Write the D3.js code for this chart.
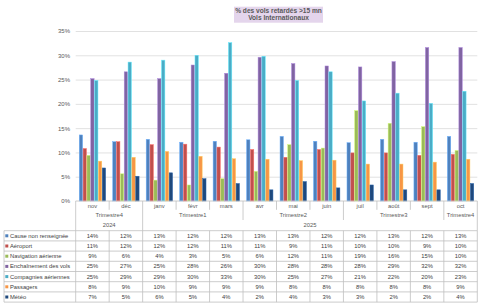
<!DOCTYPE html>
<html>
<head>
<meta charset="utf-8">
<script src="https://cdn.jsdelivr.net/npm/d3@7"></script>
<style>
  body { margin: 0; background: #fff; }
  text { font-family: "Liberation Sans", Arial, sans-serif; }
</style>
</head>
<body>
<div id="chart"></div>
<script>
// data
const months = ["nov", "déc", "janv", "févr", "mars", "avr", "mai", "juin", "juil", "août", "sept", "oct"];
const monthQuarter = ["Trimestre4", "Trimestre4", "Trimestre1", "Trimestre1", "Trimestre1", "Trimestre2", "Trimestre2", "Trimestre2", "Trimestre3", "Trimestre3", "Trimestre3", "Trimestre4"];
const monthYear = ["2024", "2024", "2025", "2025", "2025", "2025", "2025", "2025", "2025", "2025", "2025", "2025"];

const seriesNames = ["Cause non renseignée", "Aéroport", "Navigation aérienne", "Enchaînement des vols", "Compagnies aériennes", "Passagers", "Météo"];
const seriesColors = ["#4f81bd", "#c0504d", "#9bbb59", "#8064a2", "#4bacc6", "#f79646", "#1f497d"];

const causeNonRenseignee = [13.6, 12.2, 12.7, 12.1, 12.3, 12.6, 13.3, 12.3, 12.0, 12.7, 12.1, 13.3];
const aeroport = [10.8, 12.2, 11.6, 11.7, 11.1, 10.6, 9.0, 10.6, 9.9, 9.9, 9.4, 9.6];
const navigationAerienne = [9.4, 5.6, 4.3, 3.3, 4.6, 6.1, 11.6, 10.9, 18.6, 16.0, 15.3, 10.4];
const enchainementVols = [25.2, 26.6, 25.2, 28.0, 26.3, 29.6, 28.3, 27.8, 27.6, 28.7, 31.6, 31.6];
const compagniesAeriennes = [24.8, 28.6, 29.0, 30.0, 32.6, 29.8, 24.8, 26.6, 20.6, 22.2, 20.1, 22.6];
const passagers = [8.2, 9.0, 10.2, 9.2, 8.7, 8.6, 8.3, 8.4, 7.6, 7.6, 8.0, 8.6];
const meteo = [6.8, 5.1, 5.8, 4.6, 3.6, 2.3, 4.0, 2.7, 3.3, 2.3, 2.3, 3.6];

const seriesValues = [causeNonRenseignee, aeroport, navigationAerienne, enchainementVols, compagniesAeriennes, passagers, meteo];
const yTicks = [0, 5, 10, 15, 20, 25, 30, 35];

// metrics
const width = 483;
const height = 305;
const plotLeft = 75.7;
const plotRight = 477.3;
const plotTop = 31;
const plotBottom = 201;
const tableLeft = 4;
const tableTop = 230.7;
const rowHeight = 10.2;
const gridColor = "#d9d9d9";
const lineColor = "#bfbfbf";
const textColor = "#595959";

const svg = d3.select("#chart")
  .append("svg")
  .attr("width", width)
  .attr("height", height);

// title
svg.append("rect")
  .attr("x", 234).attr("y", 6.7)
  .attr("width", 89).attr("height", 16)
  .attr("fill", "#e4d5ec");

svg.append("text")
  .attr("x", 278.5).attr("y", 13.3)
  .attr("text-anchor", "middle")
  .attr("font-size", 6.6).attr("font-weight", "bold")
  .attr("fill", textColor)
  .text("% des vols retardés >15 mn");

svg.append("text")
  .attr("x", 278.5).attr("y", 20)
  .attr("text-anchor", "middle")
  .attr("font-size", 6.6).attr("font-weight", "bold")
  .attr("fill", textColor)
  .text("Vols Internationaux");

// scales
const x0 = d3.scaleBand()
  .domain(months)
  .range([plotLeft, plotRight])
  .paddingInner(0.185)
  .paddingOuter(0.0925);

const x1 = d3.scaleBand()
  .domain(seriesNames)
  .range([0, x0.bandwidth()])
  .padding(0.12);

const y = d3.scaleLinear()
  .domain([0, 35])
  .range([plotBottom, plotTop]);

// gridlines
const grid = svg.append("g")
  .attr("transform", `translate(${plotLeft},0)`)
  .call(d3.axisLeft(y).tickValues(yTicks.slice(1)).tickSize(-(plotRight - plotLeft)).tickFormat(""));
grid.select(".domain").remove();
grid.selectAll("line").attr("stroke", gridColor).attr("stroke-width", 0.8);

// y axis labels
const yAxis = svg.append("g")
  .attr("transform", `translate(70,0)`)
  .call(d3.axisLeft(y).tickValues(yTicks).tickSize(0).tickPadding(0).tickFormat((d) => d + "%"));
yAxis.select(".domain").remove();
yAxis.selectAll("text")
  .attr("font-size", 6)
  .attr("font-family", "Liberation Sans, Arial, sans-serif")
  .attr("fill", textColor);

// bars
const groups = svg.append("g")
  .selectAll("g")
  .data(months)
  .join("g")
  .attr("transform", (d) => `translate(${x0(d)},0)`);

groups.selectAll("rect")
  .data((m, i) => seriesNames.map((s, k) => ({ series: s, value: seriesValues[k][i], color: seriesColors[k] })))
  .join("rect")
  .attr("x", (d) => x1(d.series))
  .attr("width", x1.bandwidth())
  .attr("y", (d) => y(d.value))
  .attr("height", (d) => y(0) - y(d.value))
  .attr("fill", (d) => d.color)
  .attr("stroke", (d) => d3.color(d.color).brighter(0.9))
  .attr("stroke-width", 0.5);

// category axis
const axisG = svg.append("g");
axisG.append("line")
  .attr("x1", plotLeft).attr("x2", plotRight)
  .attr("y1", plotBottom).attr("y2", plotBottom)
  .attr("stroke", lineColor).attr("stroke-width", 0.8);

const step = x0.step();
const colLeft = (i) => plotLeft + i * step;

// boundaries: short for month, longer for quarter, full for year / edges
const boundaries = d3.range(months.length + 1).map((i) => {
  let bottom = 209.8;
  if (i === 0 || i === months.length || monthYear[i] !== monthYear[i - 1]) bottom = tableTop;
  else if (monthQuarter[i] !== monthQuarter[i - 1]) bottom = 220;
  return { x: colLeft(i), bottom };
});

axisG.selectAll("line.tick")
  .data(boundaries)
  .join("line")
  .attr("class", "tick")
  .attr("x1", (d) => d.x).attr("x2", (d) => d.x)
  .attr("y1", plotBottom).attr("y2", (d) => d.bottom)
  .attr("stroke", lineColor).attr("stroke-width", 0.8);

axisG.selectAll("text.month")
  .data(months)
  .join("text")
  .attr("class", "month")
  .attr("x", (d) => x0(d) + x0.bandwidth() / 2)
  .attr("y", 207.5)
  .attr("text-anchor", "middle")
  .attr("font-size", 5.8)
  .attr("fill", textColor)
  .text((d) => d);

function runs(labels) {
  const out = [];
  labels.forEach((l, i) => {
    if (i > 0 && labels[i - 1] === l) out[out.length - 1].end = i;
    else out.push({ label: l, start: i, end: i });
  });
  return out;
}

axisG.selectAll("text.quarter")
  .data(runs(monthQuarter))
  .join("text")
  .attr("class", "quarter")
  .attr("x", (d) => (colLeft(d.start) + colLeft(d.end + 1)) / 2)
  .attr("y", 217)
  .attr("text-anchor", "middle")
  .attr("font-size", 5.8)
  .attr("fill", textColor)
  .text((d) => d.label);

axisG.selectAll("text.year")
  .data(runs(monthYear))
  .join("text")
  .attr("class", "year")
  .attr("x", (d) => (colLeft(d.start) + colLeft(d.end + 1)) / 2)
  .attr("y", 226.5)
  .attr("text-anchor", "middle")
  .attr("font-size", 5.8)
  .attr("fill", textColor)
  .text((d) => d.label);

// data table
const table = svg.append("g");
const tableBottom = tableTop + rowHeight * seriesNames.length;

table.selectAll("line.h")
  .data(d3.range(seriesNames.length + 1))
  .join("line")
  .attr("class", "h")
  .attr("x1", tableLeft).attr("x2", plotRight)
  .attr("y1", (i) => tableTop + i * rowHeight)
  .attr("y2", (i) => tableTop + i * rowHeight)
  .attr("stroke", lineColor).attr("stroke-width", 0.8);

table.selectAll("line.v")
  .data([tableLeft].concat(d3.range(months.length + 1).map(colLeft)))
  .join("line")
  .attr("class", "v")
  .attr("x1", (d) => d).attr("x2", (d) => d)
  .attr("y1", tableTop).attr("y2", tableBottom)
  .attr("stroke", lineColor).attr("stroke-width", 0.8);

const rows = table.selectAll("g.row")
  .data(seriesNames)
  .join("g")
  .attr("class", "row")
  .attr("transform", (d, k) => `translate(0,${tableTop + k * rowHeight})`);

rows.append("rect")
  .attr("x", 5.3).attr("y", 3.6)
  .attr("width", 3).attr("height", 3)
  .attr("fill", (d, k) => seriesColors[k]);

rows.append("text")
  .attr("x", 10).attr("y", 7.2)
  .attr("font-size", 5.8)
  .attr("fill", "#404040")
  .text((d) => d);

rows.selectAll("text.val")
  .data((d, k) => seriesValues[k].map((v, i) => ({ v, i })))
  .join("text")
  .attr("class", "val")
  .attr("x", (d) => colLeft(d.i) + step / 2)
  .attr("y", 7.2)
  .attr("text-anchor", "middle")
  .attr("font-size", 5.8)
  .attr("fill", "#404040")
  .text((d) => Math.round(d.v) + "%");
</script>
</body>
</html>
